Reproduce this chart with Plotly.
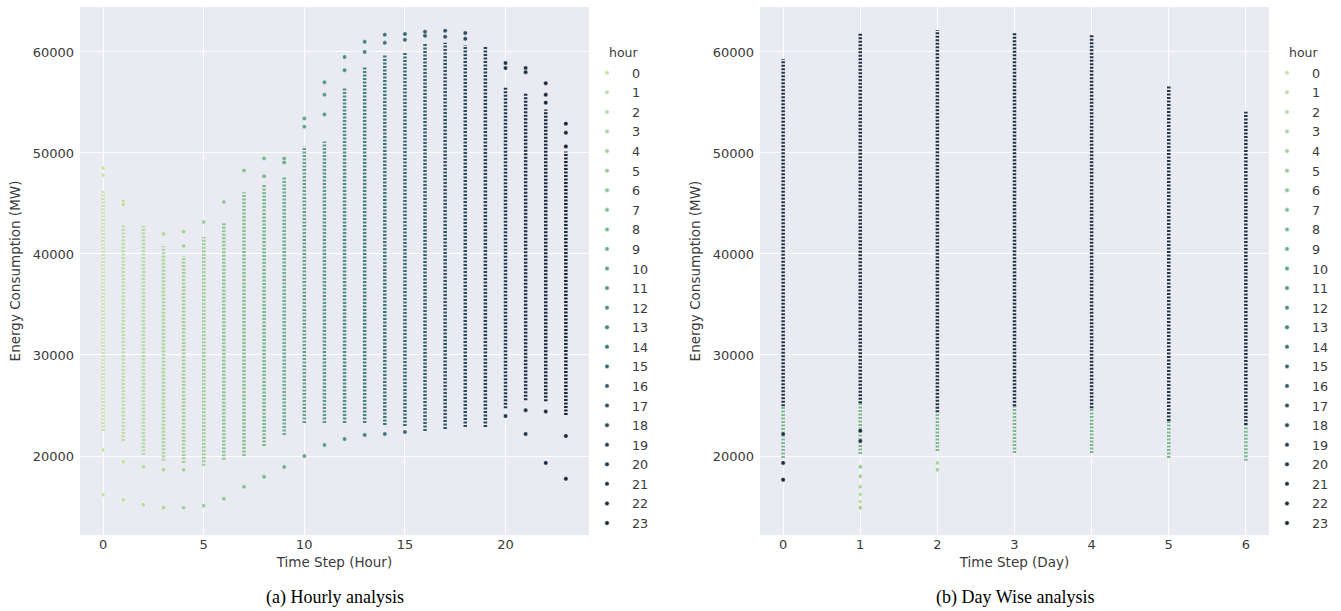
import plotly.graph_objects as go
from plotly.colors import sample_colorscale

# ---------------- data ----------------
hours = list(range(24))

# dense band of readings for each hour of the day (MW)
hour_band_low = [22470, 21490, 20100, 19520, 19320, 19025, 19620, 20000, 20990, 22080,
                 23260, 23260, 23260, 23260, 23060, 22960, 22470, 22670, 22860, 22860,
                 24740, 25530, 25430, 24050]
hour_band_high = [46240, 42960, 42760, 40800, 39800, 41680, 43150, 46100, 46900, 47570,
                  50660, 51140, 56450, 58550, 59700, 59900, 60900, 60900, 60700, 60500,
                  56450, 55960, 54300, 50150]

# isolated readings outside the dense bands
outlier_hour = [0, 0, 0, 0,
                1, 1, 1, 1,
                2, 2,
                3, 3, 3,
                4, 4, 4, 4,
                5, 5,
                6, 6,
                7, 7,
                8, 8, 8,
                9, 9, 9,
                10, 10, 10,
                11, 11, 11, 11,
                12, 12, 12,
                13, 13, 13,
                14, 14, 14,
                15, 15, 15,
                16, 16,
                17, 17,
                18, 18,
                20, 20, 20,
                21, 21, 21, 21,
                22, 22, 22, 22, 22,
                23, 23, 23, 23, 23]
outlier_mw = [48500, 47800, 20600, 16170,
              45200, 44900, 19420, 15670,
              18925, 15180,
              41970, 18630, 14890,
              40800, 42200, 18630, 14890,
              43170, 15080,
              45150, 15770,
              48270, 16950,
              47690, 49460, 17940,
              49050, 49460, 18920,
              52600, 53400, 20000,
              53800, 55760, 57000, 21090,
              58200, 59500, 21680,
              60000, 61000, 22080,
              60900, 61700, 22180,
              61200, 61770, 22370,
              61600, 62000,
              61500, 62100,
              61300, 61870,
              58900, 58400, 23950,
              58400, 58000, 24540, 22180,
              56900, 55760, 54980, 24400, 19320,
              52900, 52000, 50650, 21980, 17740]

# day-of-week view
days = [0, 1, 2, 3, 4, 5, 6]
day_top = [59300, 61870, 62170, 61970, 61770, 56650, 54090]
day_evening_low = [24930, 25230, 24340, 24930, 24740, 23460, 23060]
day_morning_low = [19800, 20200, 20500, 20300, 20300, 19810, 19520]

day_outlier_day = [0, 0, 0, 1, 1, 1, 1, 1, 1, 1, 1, 2, 2]
day_outlier_mw = [22180, 19320, 17650, 22500, 21490, 18930, 18000, 16950, 16200, 15500, 14890, 19320, 18630]
day_outlier_hour = [21, 22, 23, 22, 21, 5, 4, 3, 2, 1, 4, 3, 4]

# ---------------- styling ----------------
hour_scale = [[0.0, "#c9e2ac"], [0.15, "#a8d49c"], [0.3, "#86c290"], [0.42, "#68a98a"],
              [0.52, "#4f9086"], [0.62, "#3c7279"], [0.74, "#2f5669"], [0.86, "#233c52"],
              [1.0, "#1a2536"]]
hour_colors = sample_colorscale(hour_scale, [h / 23 for h in hours])

W, H = 1341, 611
L1, R1 = 80, 589
L2, R2 = 760, 1269
TOP, BOT = 7, 535
YR = [12180, 64450]
TXT = "#3a3a3a"
DOTS = dict(width=3.5, dash="2px,1.5px")


def marker_style(color):
    return dict(color=color, size=4.5, line=dict(color="white", width=0.5))


fig = go.Figure()

# ---- hourly panel ----
for h in hours:
    fig.add_trace(go.Scatter(
        x=[h, h], y=[hour_band_low[h], hour_band_high[h]], mode="lines",
        line=dict(color=hour_colors[h], **DOTS),
        xaxis="x", yaxis="y", showlegend=False, hoverinfo="skip"))
for h in hours:
    ys = [v for hh, v in zip(outlier_hour, outlier_mw) if hh == h]
    xs = [h] * len(ys)
    fig.add_trace(go.Scatter(
        x=xs or [None], y=ys or [None], mode="markers", name=str(h),
        marker=marker_style(hour_colors[h]),
        xaxis="x", yaxis="y", legend="legend"))

# ---- day panel ----
for d in days:
    fig.add_trace(go.Scatter(
        x=[d, d], y=[day_morning_low[d], day_evening_low[d]], mode="lines",
        line=dict(color=hour_colors[8], **DOTS),
        xaxis="x2", yaxis="y2", showlegend=False, hoverinfo="skip"))
    fig.add_trace(go.Scatter(
        x=[d, d], y=[day_evening_low[d], day_top[d]], mode="lines",
        line=dict(color=hour_colors[21], **DOTS),
        xaxis="x2", yaxis="y2", showlegend=False, hoverinfo="skip"))
for h in hours:
    pts = [(d, v) for d, v, hh in zip(day_outlier_day, day_outlier_mw, day_outlier_hour) if hh == h]
    xs = [p[0] for p in pts]
    ys = [p[1] for p in pts]
    fig.add_trace(go.Scatter(
        x=xs or [None], y=ys or [None], mode="markers", name=str(h),
        marker=marker_style(hour_colors[h]),
        xaxis="x2", yaxis="y2", legend="legend2"))

axis_common = dict(showgrid=True, gridcolor="white", gridwidth=1, zeroline=False,
                   showline=False, ticks="", tickfont=dict(size=13, color=TXT))
ytitle = dict(text="Energy Consumption (MW)", font=dict(size=13.5), standoff=8)
legend_common = dict(xanchor="left", y=1 - 58 / H, yanchor="top", itemwidth=40,
                     font=dict(size=12.75, color=TXT), bgcolor="rgba(0,0,0,0)",
                     traceorder="normal", itemclick=False)
fig.update_layout(
    width=W, height=H, margin=dict(l=0, r=0, t=0, b=0),
    paper_bgcolor="white", plot_bgcolor="#EAEAF2",
    font=dict(family="DejaVu Sans", size=13, color=TXT),
    xaxis=dict(domain=[L1 / W, R1 / W], range=[-1.15, 24.15], tickvals=[0, 5, 10, 15, 20],
               anchor="y", title=dict(text="Time Step (Hour)", font=dict(size=13.5), standoff=6),
               **axis_common),
    yaxis=dict(domain=[1 - BOT / H, 1 - TOP / H], range=YR, tickformat="d",
               tickvals=[20000, 30000, 40000, 50000, 60000], anchor="x",
               title=ytitle, ticklabelstandoff=5, **axis_common),
    xaxis2=dict(domain=[L2 / W, R2 / W], range=[-0.3, 6.3], tickvals=days,
                anchor="y2", title=dict(text="Time Step (Day)", font=dict(size=13.5), standoff=6),
                **axis_common),
    yaxis2=dict(domain=[1 - BOT / H, 1 - TOP / H], range=YR, tickformat="d",
                tickvals=[20000, 30000, 40000, 50000, 60000], anchor="x2",
                title=ytitle, ticklabelstandoff=5, **axis_common),
    legend=dict(x=(606 - 24) / W, **legend_common),
    legend2=dict(x=(1286 - 24) / W, **legend_common),
)

for xpix in (607, 1287):
    fig.add_annotation(text="hour", x=xpix / W, y=1 - 53 / H, xref="paper", yref="paper",
                       xanchor="left", yanchor="middle", showarrow=False,
                       font=dict(size=12.5, color=TXT))

for label, cx in (("(a) Hourly analysis", (L1 + R1) / 2), ("(b) Day Wise analysis", (L2 + R2) / 2)):
    fig.add_annotation(text=label, x=cx / W, y=1 - 597 / H, xref="paper", yref="paper",
                       xanchor="center", yanchor="middle", showarrow=False,
                       font=dict(family="Liberation Serif", size=18, color="black"))

fig.write_html("out.html")
